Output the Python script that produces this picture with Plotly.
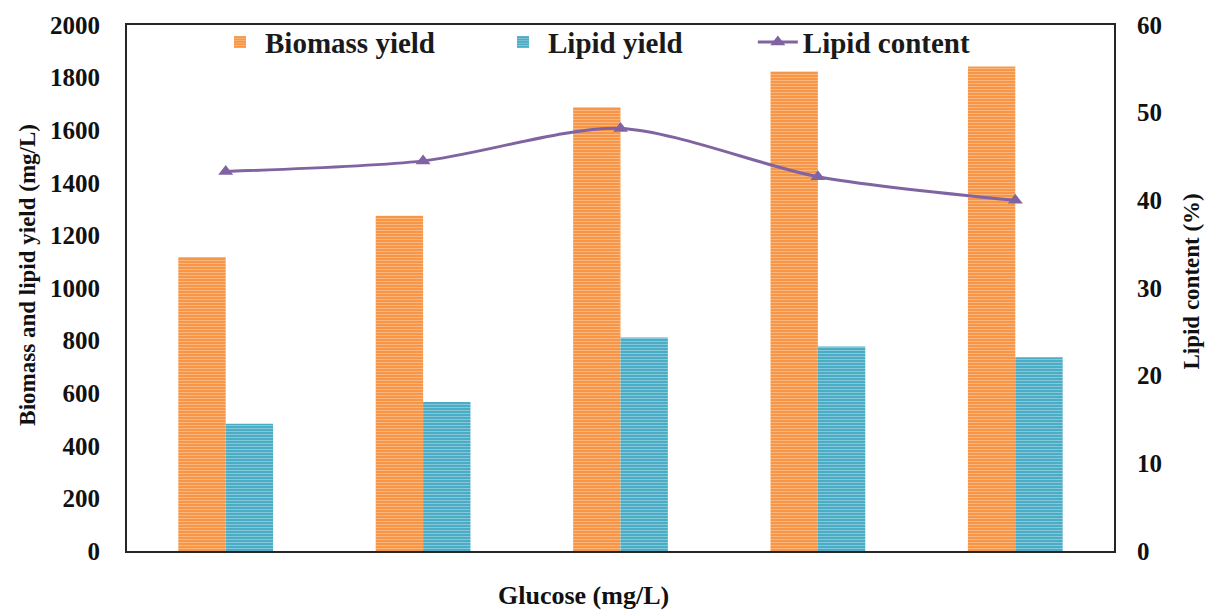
import plotly.graph_objects as go

# Five glucose levels (tick labels are not shown on the category axis)
groups = [1, 2, 3, 4, 5]
biomass_yield = [1118, 1275, 1687, 1823, 1842]   # mg/L
lipid_yield = [484, 567, 812, 778, 737]          # mg/L
lipid_content = [43.3, 44.5, 48.2, 42.7, 40.0]   # %

FONT = "Liberation Serif, Times New Roman, serif"
AXIS_COLOR = "#262626"
NB = "\u00a0"  # non-breaking spaces widen the gap between legend entries

fig = go.Figure()

fig.add_trace(go.Bar(
    x=groups, y=biomass_yield, name="<b>Biomass yield</b>" + NB * 8,
    marker=dict(color="#F79646", line=dict(width=0),
                pattern=dict(shape="-", size=3, solidity=0.34,
                             fgcolor="#FCD6B6", bgcolor="#F79646",
                             fillmode="overlay")),
))
fig.add_trace(go.Bar(
    x=groups, y=lipid_yield, name="<b>Lipid yield</b>" + NB * 9,
    marker=dict(color="#4BACC6", line=dict(width=0),
                pattern=dict(shape="-", size=3, solidity=0.34,
                             fgcolor="#BFE2EC", bgcolor="#4BACC6",
                             fillmode="overlay")),
))
fig.add_trace(go.Scatter(
    x=groups, y=lipid_content, name="<b>Lipid content</b>", yaxis="y2",
    mode="lines+markers", line=dict(color="#8064A2", width=3, shape="spline", smoothing=0.8),
    marker=dict(symbol="triangle-up", size=13, color="#8064A2"),
))

tick_font = dict(family=FONT, size=25, color="#111")

# plot area in pixels
L, R, T, B = 127, 95, 20, 60
W, H = 1209, 611
plot_w = W - L - R
plot_h = H - T - B


def px_x(x):
    return (x - L) / plot_w


def px_y(y):
    return (H - B - y) / plot_h


fig.update_layout(
    width=W, height=H,
    margin=dict(l=L, r=R, t=T, b=B),
    paper_bgcolor="white", plot_bgcolor="white",
    barmode="group", bargap=0.52, bargroupgap=0,
    font=dict(family=FONT, color="#111"),
    showlegend=True,
    legend=dict(orientation="h", x=px_x(215), y=1.016, xanchor="left", yanchor="top",
                font=dict(family=FONT, size=29, color="#1a1a1a"),
                bgcolor="rgba(0,0,0,0)", itemwidth=40, traceorder="normal"),
    xaxis=dict(range=[0.5, 5.5], showticklabels=False, ticks="",
               showline=True, linecolor=AXIS_COLOR, linewidth=2, mirror=True,
               showgrid=False, zeroline=False),
    yaxis=dict(range=[0, 2000], dtick=200, tickfont=tick_font, ticks="",
               tickprefix="<b>", ticksuffix="</b>",
               showline=True, linecolor=AXIS_COLOR, linewidth=2, mirror=True,
               showgrid=False, zeroline=False, ticklabelstandoff=20),
    yaxis2=dict(range=[0, 60], dtick=10, tickfont=tick_font, ticks="",
                tickprefix="<b>", ticksuffix="</b>",
                overlaying="y", side="right", showgrid=False, zeroline=False,
                showline=False, ticklabelstandoff=22),
    annotations=[
        dict(text="<b>Glucose (mg/L)</b>", x=px_x(583), y=px_y(596),
             xref="paper", yref="paper", xanchor="center", yanchor="middle",
             showarrow=False, font=dict(family=FONT, size=26, color="#111")),
        dict(text="<b>Biomass and lipid yield (mg/L)</b>", x=px_x(28), y=px_y(272),
             xref="paper", yref="paper", xanchor="center", yanchor="middle",
             textangle=-90, showarrow=False, font=dict(family=FONT, size=23, color="#111")),
        dict(text="<b>Lipid content (%)</b>", x=px_x(1192), y=px_y(279),
             xref="paper", yref="paper", xanchor="center", yanchor="middle",
             textangle=-90, showarrow=False, font=dict(family=FONT, size=23, color="#111")),
    ],
)

fig.write_html("out.html")
